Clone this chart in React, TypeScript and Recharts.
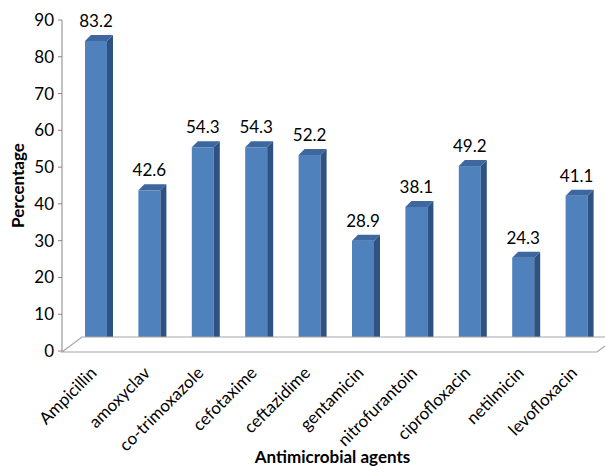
import React from 'react';
import { BarChart, Bar, XAxis, YAxis, LabelList, ReferenceLine } from 'recharts';

const categories = ['Ampicillin', 'amoxyclav', 'co-trimoxazole', 'cefotaxime', 'ceftazidime', 'gentamicin', 'nitrofurantoin', 'ciprofloxacin', 'netilmicin', 'levofloxacin'];
const percentages = [83.2, 42.6, 54.3, 54.3, 52.2, 28.9, 38.1, 49.2, 24.3, 41.1];
const yTicks = [0, 10, 20, 30, 40, 50, 60, 70, 80, 90];

const data = categories.map((name, i) => ({ name, value: percentages[i] }));

const FONT = 'Lato, "Open Sans", sans-serif';
const FRONT = '#4F81BD';
const SIDE = '#2E5382';
const TOP = '#3D679E';
const DX = 6;
const DY = 6;
const LIFT = 4;

const Bar3D = (props: any) => {
  const { x, y, width, height } = props;
  if (width == null || height == null) return null;
  const fy = y - LIFT;
  const by = y + height - LIFT;
  return (
    <g>
      <rect x={x} y={fy} width={width} height={by - fy} fill={FRONT} />
      <polygon points={`${x + width},${fy} ${x + width + DX},${fy - DY} ${x + width + DX},${by - DY} ${x + width},${by}`} fill={SIDE} />
      <polygon points={`${x},${fy} ${x + DX},${fy - DY} ${x + width + DX},${fy - DY} ${x + width},${fy}`} fill={TOP} />
    </g>
  );
};

const Floor = (props: any) => {
  const { x1, y1, x2 } = props;
  if (x1 == null) return null;
  const yf = y1 + 1;
  const pts = `${x1},${yf} ${x1 + 20},${yf - 15} ${x2 + 14},${yf - 15} ${x2 - 6},${yf}`;
  return <polygon points={pts} fill="#fff" stroke="#A6A6A6" strokeWidth={1.2} />;
};

const CatTick = (props: any) => {
  const { x, y, payload } = props;
  const tx = x + 2;
  const ty = y + 15;
  return (
    <text x={tx} y={ty} transform={`rotate(-45, ${tx}, ${ty})`} textAnchor="end" fontFamily={FONT} fontSize={17} fill="#000">
      {payload.value}
    </text>
  );
};

export default function App() {
  return (
    <div style={{ position: 'absolute', left: 0, top: 0, width: 605, height: 466 }}>
      <BarChart width={605} height={466} data={data} margin={{ top: 20, right: 2, bottom: 5, left: 0 }} barSize={22}>
        <ReferenceLine y={0} shape={Floor} />
        <XAxis
          dataKey="name"
          interval={0}
          axisLine={false}
          tickLine={false}
          padding={{ left: 7, right: 0 }}
          height={110}
          tick={<CatTick />}
          label={{ value: 'Antimicrobial agents', position: 'insideBottom', offset: -2, style: { fontFamily: FONT, fontSize: 17, fontWeight: 700, fill: '#000' } }}
        />
        <YAxis
          domain={[0, 90]}
          ticks={yTicks}
          width={62}
          axisLine={{ stroke: '#868686' }}
          tickLine={{ stroke: '#868686' }}
          tickSize={4}
          tickMargin={4}
          tick={{ fontFamily: FONT, fontSize: 17, fill: '#000' }}
          label={{ value: 'Percentage', angle: -90, position: 'insideLeft', offset: 18, style: { textAnchor: 'middle', fontFamily: FONT, fontSize: 17, fontWeight: 700, fill: '#000' } }}
        />
        <Bar dataKey="value" shape={<Bar3D />} isAnimationActive={false}>
          <LabelList dataKey="value" position="top" offset={18} style={{ fontFamily: FONT, fontSize: 17, fill: '#000' }} />
        </Bar>
      </BarChart>
    </div>
  );
}
